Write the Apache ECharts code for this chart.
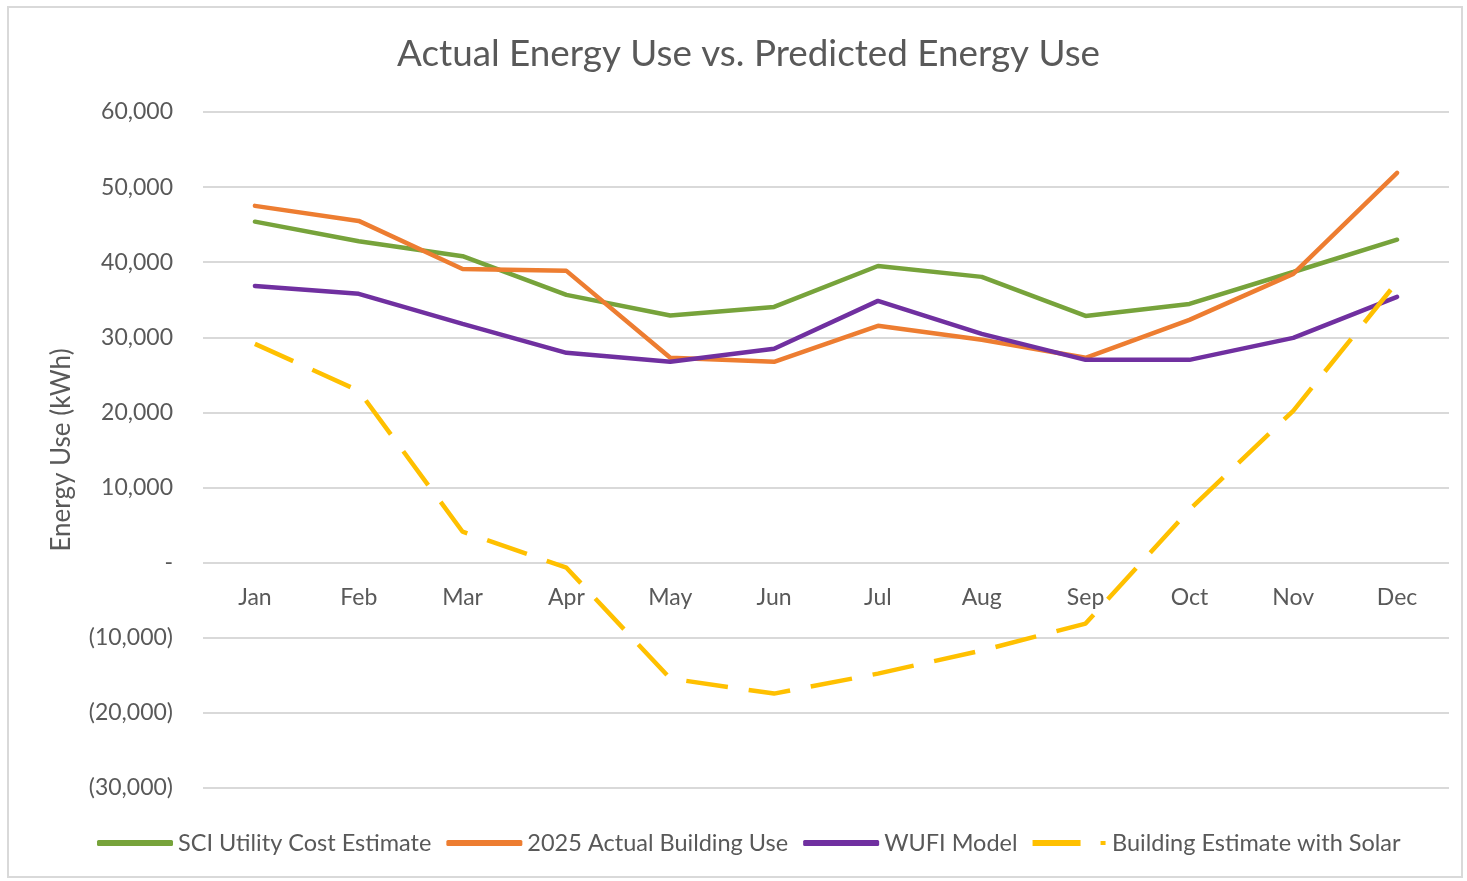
<!DOCTYPE html>
<html><head><meta charset="utf-8">
<script src="https://cdn.jsdelivr.net/npm/echarts@6/dist/echarts.min.js"></script>
<style>
html,body{margin:0;padding:0;background:#fff;}
#frame{position:absolute;left:7px;top:6px;width:1456px;height:872px;border:2px solid #d9d9d9;box-sizing:border-box;}
#chart{position:absolute;left:0;top:0;width:1467px;height:881px;}
</style></head>
<body><div id="frame"></div><div id="chart"></div>
<script>
const months = ['Jan','Feb','Mar','Apr','May','Jun','Jul','Aug','Sep','Oct','Nov','Dec'];
const sciUtility = [45400, 42800, 40800, 35650, 32900, 34050, 39500, 38050, 32850, 34450, 38700, 43000];
const actual2025 = [47500, 45500, 39100, 38850, 27270, 26740, 31530, 29670, 27270, 32330, 38450, 51900];
const wufiModel = [36850, 35790, 31800, 27940, 26740, 28470, 34850, 30460, 27000, 27000, 29930, 35390];
const solarEstimate = [29130, 22880, 4120, -670, -15430, -17430, -14770, -11700, -8110, 7050, 20220, 37380];
const seriesNames = ['SCI Utility Cost Estimate','2025 Actual Building Use','WUFI Model','Building Estimate with Solar'];
const yMin = -30000, yMax = 60000, yStep = 10000;

const font = 'Lato, "Open Sans", sans-serif';
const txt = '#595959';
function fmt(v){
  if (v === 0) return '-';
  const s = Math.abs(v).toLocaleString('en-US');
  return v < 0 ? '(' + s + ')' : s;
}
const chart = echarts.init(document.getElementById('chart'));
chart.setOption({
  backgroundColor: 'transparent',
  animation: false,
  title: {
    text: 'Actual Energy Use vs. Predicted Energy Use',
    left: 392, top: 31,
    textStyle: {fontFamily: font, fontSize: 36.8, fontWeight: 'normal', color: txt}
  },
  legend: {
    bottom: 21, left: 92,
    itemWidth: 76, itemHeight: 6, itemGap: 15,
    textStyle: {fontFamily: font, fontSize: 23.5, color: txt, padding: [0,0,0,0]},
    data: seriesNames.map((n,i)=>({name:n, icon: i===3 ? 'path://M0,0H48V6H0Z M68,1H73V5H68Z' : 'roundRect'}))
  },
  grid: {left: 203, right: 18, top: 112, bottom: 93, containLabel: false},
  xAxis: {
    type: 'category', data: months, boundaryGap: true,
    offset: -225,
    axisLine: {show: false, onZero: false},
    axisTick: {show: false},
    axisLabel: {fontFamily: font, fontSize: 23, color: txt, margin: 23}
  },
  yAxis: {
    type: 'value', min: yMin, max: yMax, interval: yStep,
    name: 'Energy Use (kWh)', nameLocation: 'middle', nameGap: 128, nameRotate: 90,
    nameTextStyle: {fontFamily: font, fontSize: 26, color: txt},
    axisLine: {show: false}, axisTick: {show: false},
    axisLabel: {fontFamily: font, fontSize: 23, color: txt, margin: 30, formatter: fmt},
    splitLine: {lineStyle: {color: '#d9d9d9', width: 2}}
  },
  series: [
    {name: seriesNames[0], type: 'line', data: sciUtility, symbol: 'none', lineStyle: {color: '#77a33b', width: 4.5, cap: 'round'}, itemStyle: {color: '#77a33b'}},
    {name: seriesNames[1], type: 'line', data: actual2025, symbol: 'none', lineStyle: {color: '#ed7d31', width: 4.5, cap: 'round'}, itemStyle: {color: '#ed7d31'}},
    {name: seriesNames[2], type: 'line', data: wufiModel, symbol: 'none', lineStyle: {color: '#7030a0', width: 4.5, cap: 'round'}, itemStyle: {color: '#7030a0'}},
    {name: seriesNames[3], type: 'line', data: solarEstimate, symbol: 'none', lineStyle: {color: '#ffc000', width: 4.5, type: [42, 21]}, itemStyle: {color: '#ffc000'}}
  ]
});
</script></body></html>
